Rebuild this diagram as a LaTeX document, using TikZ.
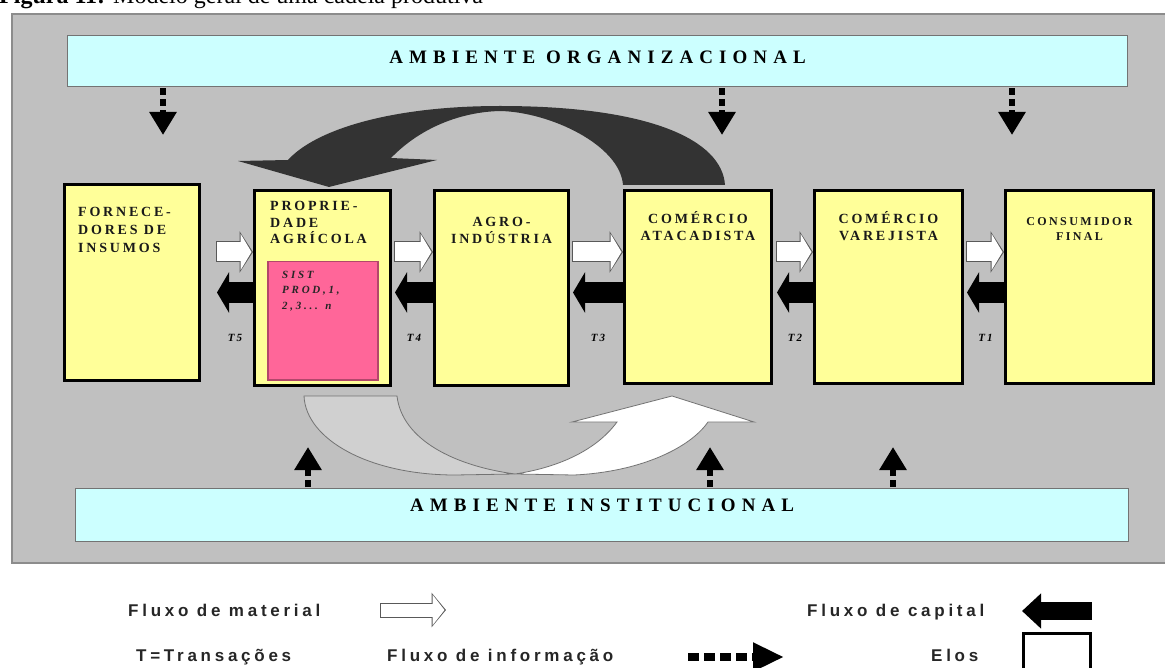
\documentclass[tikz,border=0pt]{standalone}
\usepackage{fontspec}
\setmainfont{Liberation Serif}
\setsansfont{Liberation Sans}
\usetikzlibrary{positioning,calc,arrows.meta}
\definecolor{painel}{HTML}{C0C0C0}
\definecolor{ambiente}{HTML}{CCFFFF}
\definecolor{amarelo}{HTML}{FFFF99}
\definecolor{rosa}{HTML}{FF6699}
\definecolor{escuro}{HTML}{333333}
\definecolor{claro}{HTML}{D0D0D0}
\newcommand{\rotfont}{\fontsize{14}{17.5}\selectfont\bfseries\addfontfeature{LetterSpace=20}}
\newcommand{\consfont}{\fontsize{12}{15}\selectfont\bfseries\addfontfeature{LetterSpace=20}}
\newcommand{\ambfont}{\fontsize{19}{22}\selectfont\bfseries\addfontfeature{LetterSpace=32}}
\newcommand{\sisfont}{\fontsize{11}{15.5}\selectfont\bfseries\itshape\addfontfeature{LetterSpace=25}}
\newcommand{\transfont}{\fontsize{11}{13}\selectfont\bfseries\itshape\addfontfeature{LetterSpace=20}}
\newcommand{\legfont}{\fontsize{17}{20}\selectfont\sffamily\bfseries\addfontfeature{LetterSpace=22}}
\begin{document}
\begin{tikzpicture}[x=1pt, y=-1pt,
  elo/.style={draw, line width=3pt, fill=amarelo, anchor=north west, inner sep=0pt},
  amb/.style={draw=black!55, line width=1.2pt, fill=ambiente, anchor=north west, inner sep=0pt},
  rot/.style={inner sep=0pt, font=\rotfont, text=black!90},
  trans/.style={inner sep=0pt, anchor=base, font=\transfont},
  leg/.style={inner sep=0pt, anchor=base west, font=\legfont, text=black!85},
  matflow/.style={draw=white, line width=19pt, shorten >=1.5pt, -{Triangle[length=11pt,width=36pt]},
    preaction={draw=black!65, line width=21pt, shorten >=0pt, shorten <=-1pt, -{Triangle[length=13.5pt,width=41pt]}}},
  matleg/.style={draw=white, line width=13pt, shorten >=1.5pt, -{Triangle[length=12pt,width=30pt]},
    preaction={draw=black!65, line width=15pt, shorten >=0pt, shorten <=-1pt, -{Triangle[length=14.5pt,width=34pt]}}},
  capflow/.style={draw=black, line width=21pt, -{Triangle[length=12pt,width=40pt]}},
  capleg/.style={draw=black, line width=18pt, -{Triangle[length=19pt,width=34pt]}},
  infoflow/.style={draw=black, line width=6pt, dash pattern=on 7pt off 4pt, -{Triangle[length=23pt,width=26pt]}},
  infoleg/.style={draw=black, line width=8pt, dash pattern=on 11pt off 5pt, -{Triangle[length=31pt,width=27pt]}}]
  \useasboundingbox (0,0) rectangle (1165,668);
  \node[anchor=base west, inner sep=0pt, font=\fontsize{24}{28}\selectfont] (titulo) at (-1,4) {\textbf{Figura 11:} Modelo geral de uma cadeia produtiva};
  \draw[fill=painel, draw=black!45, line width=1.5pt] (12,14) rectangle (1185,563);

  \node[amb, minimum width=1060pt, minimum height=51pt] (org) at (67,35) {};
  \node[amb, minimum width=1053pt, minimum height=53pt] (inst) at (75,488) {};
  \node[inner sep=0pt, anchor=base, font=\ambfont] (orgt) at ($(org.north)+(0,28.5)$) {AMBIENTE ORGANIZACIONAL};
  \node[inner sep=0pt, anchor=base, font=\ambfont] (instt) at ($(inst.north)+(0,23)$) {AMBIENTE INSTITUCIONAL};

  \fill[escuro] (725,185) .. controls (722,140) and (650,106) .. (500,106)
    .. controls (390,106) and (315,130) .. (288,160) -- (238,161) -- (329,187) -- (437,160) -- (391,158)
    .. controls (420,128) and (460,112) .. (500,111)
    .. controls (550,112) and (620,145) .. (623,185) -- cycle;
  \filldraw[fill=claro, draw=black!55, line width=0.8pt] (304,396) -- (397,396)
    .. controls (402,440) and (455,466) .. (515,474) -- (455,475)
    .. controls (370,475) and (306,440) .. (304,396) -- cycle;
  \filldraw[fill=white, draw=black!55, line width=0.8pt] (515,474) -- (574,475)
    .. controls (640,472) and (690,448) .. (708,422) -- (754,422) -- (672,396) -- (572,422) -- (617,422)
    .. controls (595,452) and (555,468) .. (515,474) -- cycle;

  \node[elo, minimum width=135pt, minimum height=196pt] (forn) at (63,183) {};
  \node[elo, minimum width=136pt, minimum height=195pt] (prop) at (253,189) {};
  \node[elo, minimum width=134pt, minimum height=195pt] (agro) at (433,189) {};
  \node[elo, minimum width=147pt, minimum height=193pt] (atac) at (623,189) {};
  \node[elo, minimum width=148pt, minimum height=193pt] (vare) at (813,189) {};
  \node[elo, minimum width=148pt, minimum height=193pt] (cons) at (1004,189) {};
  \node[draw=rosa!70!black, line width=1.5pt, fill=rosa, anchor=north west, inner sep=0pt,
    minimum width=110pt, minimum height=118pt] (sist) at (267,261) {};

  \node[rot, align=left, anchor=base west] (fornt) at ($(forn.north west)+(15,69.6)$) {FORNECE-\\[0.5pt]DORES DE\\[0.5pt]INSUMOS};
  \node[rot, align=left, anchor=base west] (propt) at ($(prop.north west)+(17,54.6)$) {PROPRIE-\\[-1pt]DADE\\[-1pt]AGRÍCOLA};
  \node[rot, align=center, anchor=base] (agrot) at ($(agro.north)+(0,54.6)$) {AGRO-\\[-0.5pt]INDÚSTRIA};
  \node[rot, align=center, anchor=base] (atact) at ($(atac.north)+(0,51.6)$) {COMÉRCIO\\[-0.5pt]ATACADISTA};
  \node[rot, align=center, anchor=base] (varet) at ($(vare.north)+(0,51.6)$) {COMÉRCIO\\[-0.5pt]VAREJISTA};
  \node[rot, font=\consfont, align=center, anchor=base] (const) at ($(cons.north)+(0,52)$) {CONSUMIDOR\\FINAL};
  \node[inner sep=0pt, font=\sisfont, text=black!85, align=left, anchor=base west] (sistt) at ($(sist.north west)+(15,48.5)$) {SIST\\PROD,1,\\2,3... n};

  \coordinate (matl) at (0,252);
  \coordinate (capl) at (0,292.5);
  \coordinate (tl) at (0,341.5);
  \foreach \a/\b/\off/\t in {forn/prop/16/5, prop/agro/3/4, agro/atac/3/3, atac/vare/4/2, vare/cons/3/1}{
    \draw[matflow] ($(\a.east |- matl)+(\off,0)$) -- (\b.west |- matl);
    \draw[capflow] (\b.west |- capl) -- ($(\a.east |- capl)+(\off,0)$);
    \node[trans] (t\t) at ($(\a.east |- tl)!0.5!(\b.west |- tl)+(\off/2,0)$) {T\t};
  }

  \coordinate (io1) at (163,135);
  \coordinate (io2) at (722,135);
  \coordinate (io3) at (1012,135);
  \coordinate (ii1) at (308,447);
  \coordinate (ii2) at (710,447);
  \coordinate (ii3) at (893,447);
  \foreach \i in {1,2,3}{
    \draw[infoflow] ($(org.south -| io\i)+(0,1)$) -- (io\i);
    \draw[infoflow] ($(inst.north -| ii\i)+(0,-1)$) -- (ii\i);
  }

  \node[leg] (lmat) at (128,616) {Fluxo de material};
  \coordinate (lm1) at (381,610);
  \coordinate (lm2) at (446,610);
  \draw[matleg] (lm1) -- (lm2);
  \node[leg] (ltra) at (136,661) {T=Transações};
  \node[leg] (linf) at (387,661) {Fluxo de informação};
  \coordinate (li1) at (688,657);
  \coordinate (li2) at (784,657);
  \draw[infoleg] (li1) -- (li2);
  \node[leg] (lcap) at (807,616) {Fluxo de capital};
  \coordinate (lc1) at (1092,611);
  \coordinate (lc2) at (1022,611);
  \draw[capleg] (lc1) -- (lc2);
  \node[leg] (lelo) at (931,661) {Elos};
  \node[draw, line width=3pt, anchor=north west, inner sep=0pt, minimum width=67pt, minimum height=50pt] (elos) at (1022,632) {};
\end{tikzpicture}
\end{document}
